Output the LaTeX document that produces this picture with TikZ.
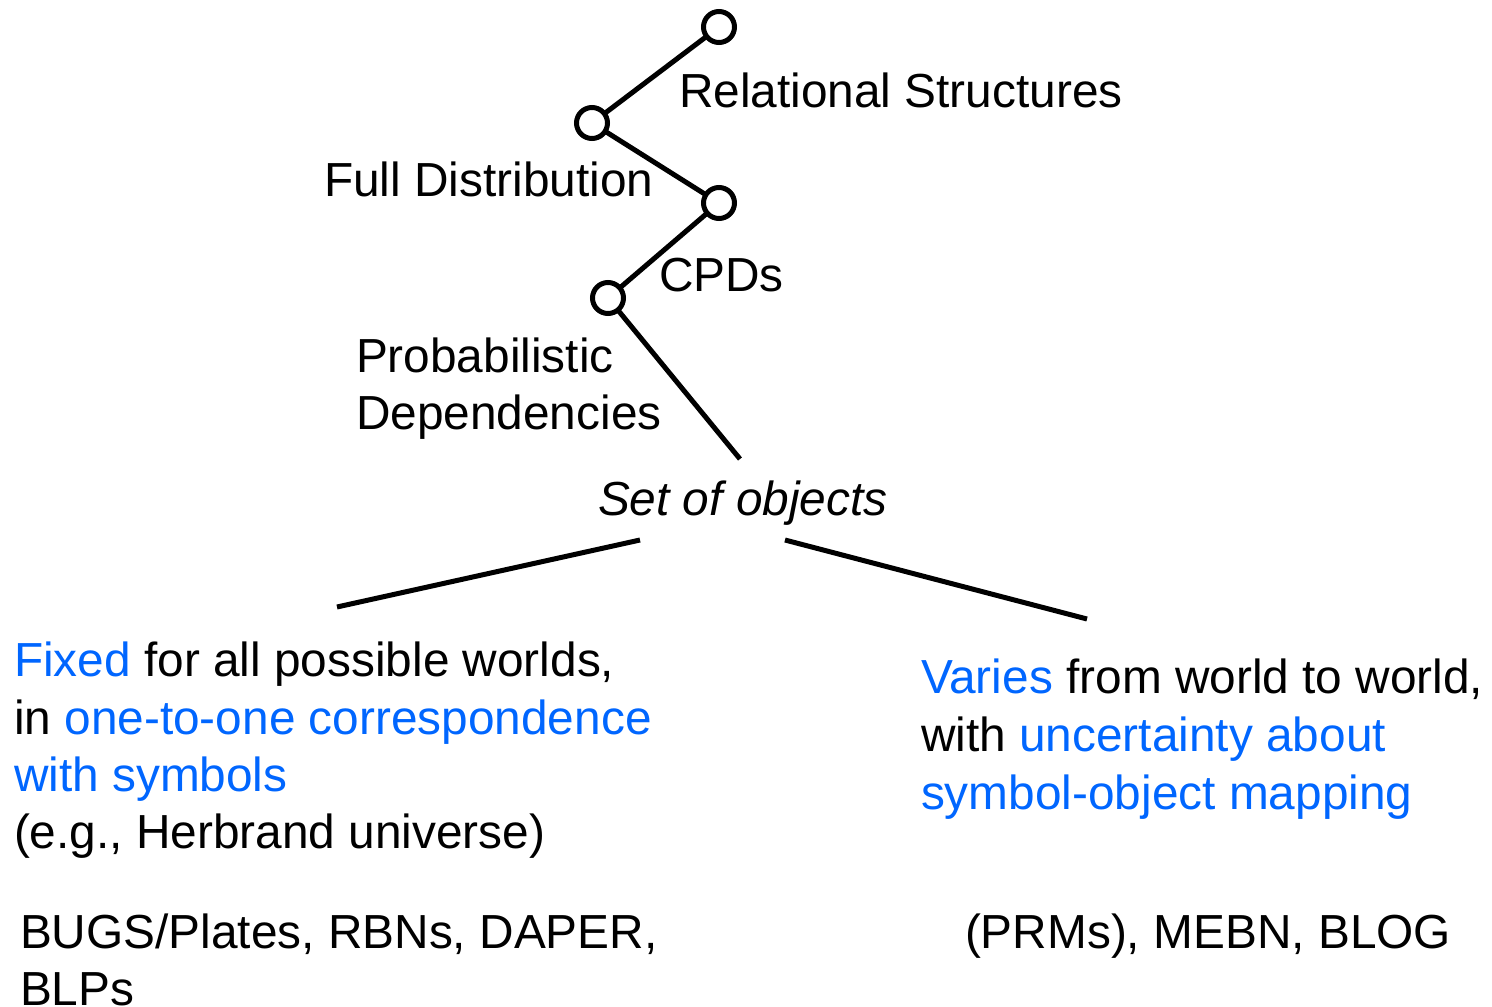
\documentclass[tikz,border=0pt]{standalone}
\usepackage{fontspec}
\setmainfont{Liberation Sans}
\definecolor{hiblue}{RGB}{0,102,255}
\begin{document}
\begin{tikzpicture}[x=1pt,y=-1pt,
  every node/.style={inner sep=0pt,outer sep=0pt},
  dot/.style={circle,draw=black,line width=5pt,minimum size=31pt,fill=white},
  edge/.style={line width=5pt,line cap=butt},
  lbl/.style={anchor=base west,font=\fontsize{47.8}{57.5}\selectfont},
  hl/.style={text=hiblue}]
\useasboundingbox (0,0) rectangle (1492,1007);

% chain of refinement levels
\node[dot] (n1) at (719,27) {};
\node[dot] (n2) at (592,123) {};
\node[dot] (n3) at (719,203) {};
\node[dot] (n4) at (608,298) {};
\coordinate (c5) at (740,459);
\draw[edge] (n1) -- (n2);
\draw[edge] (n2) -- (n3);
\draw[edge] (n3) -- (n4);
\draw[edge] (n4) -- (c5);

\node[lbl] (rel) at (679,107) {Relational Structures};
\node[lbl] (full) at (324,196) {Full Distribution};
\node[lbl] (cpd) at (659,291) {CPDs};
\node[lbl] (prob1) at (356,372) {Probabilistic};
\node[lbl] (prob2) at (356,429) {Dependencies};
\node[lbl] (set) at (598,515) {\itshape Set of objects};

% branches
\coordinate (bl1) at (640,540);
\coordinate (bl2) at (337,607);
\coordinate (br1) at (785,540);
\coordinate (br2) at (1087,619);
\draw[edge] (bl1) -- (bl2);
\draw[edge] (br1) -- (br2);

% fixed universe
\node[lbl] (f1) at (14,676) {\textcolor{hiblue}{Fixed} for all possible worlds,};
\node[lbl] (f2) at (14,734) {in \textcolor{hiblue}{one-to-one correspondence}};
\node[lbl,hl] (f3) at (14,791) {with symbols};
\node[lbl] (f4) at (14,848) {(e.g., Herbrand universe)};

% varying universe
\node[lbl] (v1) at (921,693) {\textcolor{hiblue}{Varies} from world to world,};
\node[lbl] (v2) at (921,751) {with \textcolor{hiblue}{uncertainty about}};
\node[lbl,hl] (v3) at (921,809) {symbol-object mapping};

% example languages
\node[lbl] (e1) at (20,948) {BUGS/Plates, RBNs, DAPER,};
\node[lbl] (e2) at (20,1005) {BLPs};
\node[lbl] (e3) at (965,948) {(PRMs), MEBN, BLOG};
\end{tikzpicture}
\end{document}
